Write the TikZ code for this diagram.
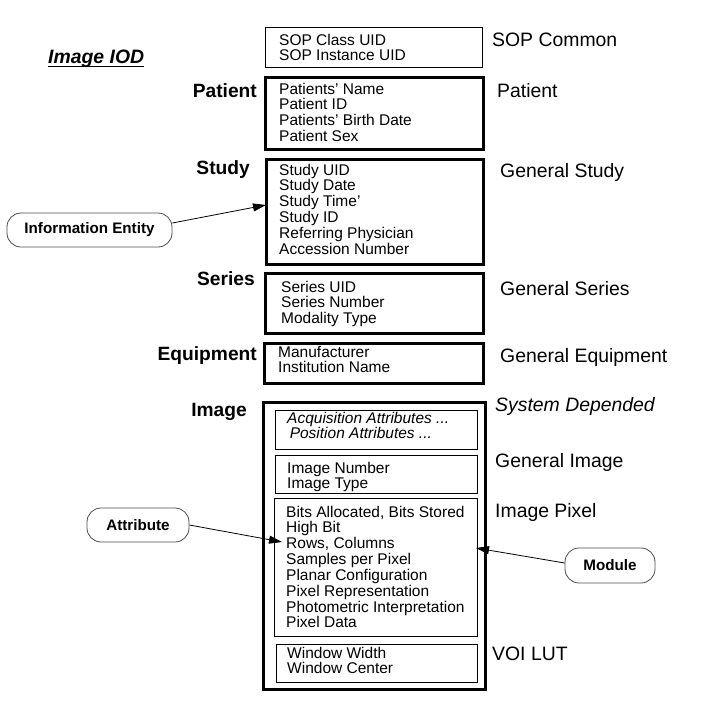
\documentclass[tikz,border=0pt]{standalone}
\usepackage{fontspec}
\setmainfont{Liberation Sans}
\usetikzlibrary{arrows.meta,fit}
\newcommand{\boxlines}[1]{\begin{tabular}[t]{@{}l@{}}#1\end{tabular}}
\begin{document}
\begin{tikzpicture}[x=1pt,y=-1pt,
  thinbox/.style={draw, line width=0.9pt, inner sep=0pt},
  thickbox/.style={draw, line width=3pt, inner sep=0pt},
  inbox/.style={draw, line width=1pt, inner sep=0pt},
  attrtext/.style={anchor=base west, inner sep=0pt, font=\fontsize{15.5}{15.4}\selectfont},
  modlabel/.style={anchor=base west, inner sep=0pt, font=\fontsize{19.4}{22}\selectfont},
  entlabel/.style={anchor=base east, inner sep=0pt, font=\bfseries\fontsize{19.2}{22}\selectfont},
  callout/.style={draw=black!70, line width=0.8pt, rounded corners=14pt, inner sep=0pt,
    font=\bfseries\fontsize{15.2}{18}\selectfont},
  arr/.style={-{Triangle[length=13pt,width=8pt]}, line width=0.8pt}]
\useasboundingbox (0,0) rectangle (704,707);

% title
\node[anchor=base west, inner sep=0pt, font=\bfseries\itshape\fontsize{19.4}{22}\selectfont] (iod) at (48,63) {Image IOD};
\draw[line width=1.3pt] ([yshift=-3.5pt]iod.base west) -- ([yshift=-3.5pt]iod.base east);

% SOP common
\node[thinbox, fit={(265,27)(482,67)}] (sop) {};
\node[attrtext] (sopt) at (279,45) {\boxlines{SOP Class UID\\SOP Instance UID}};
\node[modlabel] (sopl) at (492,46) {SOP Common};

% Patient
\node[thickbox, fit={(265,77)(483,149)}] (patient) {};
\node[attrtext] (patientt) at (279,94) {\boxlines{Patients' Name\\Patient ID\\Patients' Birth Date\\Patient Sex}};
\node[entlabel] (patiente) at (257,97) {Patient};
\node[modlabel] (patientm) at (497,97) {Patient};

% Study
\node[thickbox, fit={(266,159)(483,264)}] (study) {};
\node[attrtext] (studyt) at (279,175) {\boxlines{Study UID\\Study Date\\Study Time'\\Study ID\\Referring Physician\\Accession Number}};
\node[entlabel] (studye) at (250,174) {Study};
\node[modlabel] (studym) at (500,177) {General Study};

% Series
\node[thickbox, fit={(265,273)(483,333)}] (series) {};
\node[attrtext] (seriest) at (281,292) {\boxlines{Series UID\\Series Number\\Modality Type}};
\node[entlabel] (seriese) at (255,285) {Series};
\node[modlabel] (seriesm) at (500,295) {General Series};

% Equipment
\node[thickbox, fit={(264,343)(483,383)}] (equip) {};
\node[attrtext] (equipt) at (278,357) {\boxlines{Manufacturer\\Institution Name}};
\node[entlabel] (equipe) at (257,360) {Equipment};
\node[modlabel] (equipm) at (500,362) {General Equipment};

% Image
\node[thickbox, fit={(263,402)(485,689)}] (image) {};
\node[entlabel] (imagee) at (247,416) {Image};
\node[inbox, fit={(275,410)(477,449)}] (in1) {};
\node[attrtext, font=\itshape\fontsize{15.5}{15.4}\selectfont] (in1t) at (287,423) {\boxlines{Acquisition Attributes ...\\\,Position Attributes ...}};
\node[modlabel, font=\itshape\fontsize{19.4}{22}\selectfont] (in1m) at (495,411) {System Depended};

\node[inbox, fit={(275,455)(477,493)}] (in2) {};
\node[attrtext] (in2t) at (287,473) {\boxlines{Image Number\\Image Type}};
\node[modlabel] (in2m) at (495,467) {General Image};

\node[inbox, fit={(274,498)(477,636)}] (in3) {};
\node[attrtext] (in3t) at (286,517) {\boxlines{Bits Allocated, Bits Stored\\High Bit\\Rows, Columns\\Samples per Pixel\\Planar Configuration\\Pixel Representation\\Photometric Interpretation\\Pixel Data}};
\node[modlabel] (in3m) at (495,517) {Image Pixel};

\node[inbox, fit={(276,644)(477,682)}] (in4) {};
\node[attrtext] (in4t) at (287,658) {\boxlines{Window Width\\Window Center}};
\node[modlabel] (in4m) at (492,660) {VOI LUT};

% callouts
\node[callout, minimum width=165pt, minimum height=34pt] (ie) at (89.5,230) {Information Entity};
\node[callout, minimum width=102pt, minimum height=34pt] (attr) at (138,525) {Attribute};
\node[callout, minimum width=90pt, minimum height=35pt] (mod) at (610,565.5) {Module};

\coordinate (ietip) at (266,205);
\coordinate (attrtip) at (282,542);
\coordinate (modtip) at (476,548);
\draw[arr] ([yshift=7pt]ie.east) -- (ietip);
\draw[arr] (attr.east) -- (attrtip);
\draw[arr] ([yshift=2.5pt]mod.west) -- (modtip);
\end{tikzpicture}
\end{document}
